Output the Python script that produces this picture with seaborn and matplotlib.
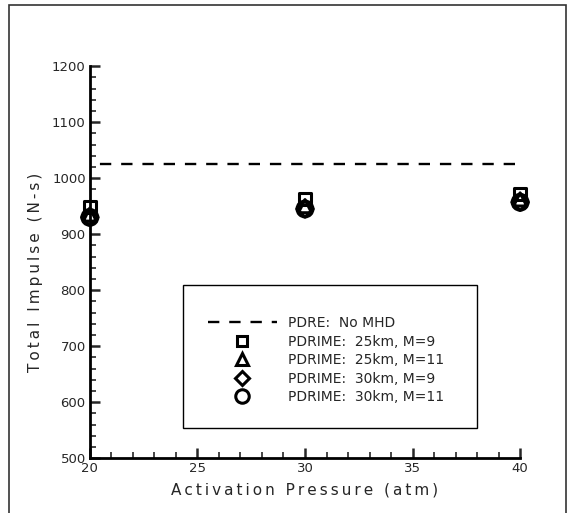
import matplotlib
matplotlib.use("Agg")
import matplotlib.pyplot as plt
import seaborn as sns
import pandas as pd
from matplotlib.lines import Line2D
from matplotlib.patches import Rectangle

pressure = [20, 30, 40]
series_names = ["PDRIME:  25km, M=9", "PDRIME:  25km, M=11",
                "PDRIME:  30km, M=9", "PDRIME:  30km, M=11"]
imp_25_m9 = [948, 963, 972]
imp_25_m11 = [935, 950, 962]
imp_30_m9 = [930, 945, 957]
imp_30_m11 = [930, 945, 957]
baseline_x = [20, 40]
baseline_y = [1025, 1025]
baseline_name = "PDRE:  No MHD"
x_label = "Activation Pressure (atm)"
y_label = "Total Impulse (N-s)"
markers = ["s", "^", "D", "o"]
msizes = [80, 90, 70, 130]


def track(s, sp="\u2009"):
    return sp.join(list(s))


sns.set_style("white")
plt.rcParams["font.family"] = ["DejaVu Sans"]

fig = plt.figure(figsize=(5.76, 5.13), dpi=100)
ax = fig.add_axes([0.156, 0.107, 0.747, 0.764])

rows = []
for name, vals in zip(series_names, [imp_25_m9, imp_25_m11, imp_30_m9, imp_30_m11]):
    for p, v in zip(pressure, vals):
        rows.append({"p": p, "v": v, "s": name})
df = pd.DataFrame(rows)
base = pd.DataFrame({"p": baseline_x, "v": baseline_y})

dash = (4.8, (4.8, 4.2))
sns.lineplot(data=base, x="p", y="v", ax=ax, color="black", linewidth=1.7,
             linestyle=dash, legend=False)
for name, m, s in zip(series_names, markers, msizes):
    sub = df[df.s == name]
    sns.scatterplot(data=sub, x="p", y="v", ax=ax, marker=m, s=s,
                    facecolor="none", edgecolor="black", linewidth=2.2,
                    legend=False, zorder=3, clip_on=False)

ax.set_xlim(20, 40)
ax.set_ylim(500, 1200)
ax.set_xticks([20, 25, 30, 35, 40])
ax.set_yticks(range(500, 1201, 100))
ax.set_xticks(range(20, 41), minor=True)
ax.set_yticks(range(500, 1201, 20), minor=True)
ax.tick_params(which="major", direction="in", length=7, width=1.8, labelsize=9.5, pad=3)
ax.tick_params(which="minor", direction="in", length=4, width=1.2)
ax.tick_params(axis="both", which="both", bottom=True, left=True, top=False, right=False)
for sp in ["top", "right"]:
    ax.spines[sp].set_visible(False)
for sp in ["left", "bottom"]:
    ax.spines[sp].set_linewidth(2)
    ax.spines[sp].set_color("black")
ax.set_xlabel(track(x_label), fontsize=11, labelpad=5)
ax.set_ylabel(track(y_label), fontsize=11)
ax.yaxis.set_label_coords(-0.11, 0.475)

# legend frame
ax.add_patch(Rectangle((0.216, 0.077), 0.684, 0.364, transform=ax.transAxes,
                       fill=False, edgecolor="black", linewidth=1.0, zorder=4))

handles = [Line2D([0], [0], color="black", lw=1.7, linestyle=(0, (4.8, 4.2)))]
for m, s in zip(markers, msizes):
    handles.append(Line2D([0], [0], marker=m, linestyle="none", markersize=s ** 0.5 * 0.85,
                          markerfacecolor="none", markeredgecolor="black", markeredgewidth=2.2))
labels = [baseline_name] + series_names
leg = ax.legend(handles, labels, loc="center left", bbox_to_anchor=(0.274, 0.25),
                frameon=False, fontsize=10, handlelength=5.0,
                labelspacing=0.33, borderpad=0, borderaxespad=0, handletextpad=0.8)

fig.patches.append(Rectangle((9 / 576, -0.01), 557 / 576, 1 - 5 / 513 + 0.01,
                             transform=fig.transFigure, fill=False,
                             edgecolor="#333333", linewidth=1.2))

fig.savefig("out.png", dpi=100)
